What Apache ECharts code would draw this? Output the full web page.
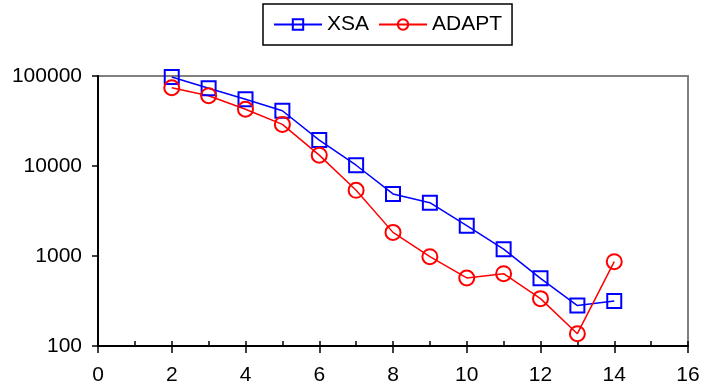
<!DOCTYPE html>
<html lang="en">
<head>
    <meta charset="utf-8">
    <title>XSA vs ADAPT</title>
    <script src="https://cdn.jsdelivr.net/npm/echarts@6/dist/echarts.min.js"></script>
</head>
<body style="margin:0;">
<div id="main" style="width:703px;height:391px;"></div>

<script type="text/javascript">
    // values (log scale)
    const xValues = [2, 3, 4, 5, 6, 7, 8, 9, 10, 11, 12, 13, 14];
    const xsa = [97500, 73000, 55100, 41100, 19400, 10200, 4890, 3910, 2170, 1190, 565, 281, 316];
    const adapt = [74000, 60400, 42700, 29000, 13200, 5370, 1830, 982, 570, 636, 336, 137, 865];
    const seriesNames = ['XSA', 'ADAPT'];

    const font = 'Arial, "Liberation Sans", sans-serif';

    function pairs(vals) {
        return xValues.map(function (x, i) { return [x, vals[i]]; });
    }

    let myChart = echarts.init(document.getElementById('main'));
    const option = {
        animation: false,
        legend: {
            data: seriesNames,
            left: 263,
            top: 4,
            padding: [10, 10],
            borderColor: '#000',
            borderWidth: 1.5,
            itemWidth: 48,
            itemHeight: 13,
            itemGap: 9,
            textStyle: { fontSize: 21, color: '#000', fontFamily: font }
        },
        grid: {
            left: 98, right: 15, top: 76, bottom: 45,
            show: true,
            borderColor: '#808080',
            borderWidth: 2
        },
        xAxis: [{
            type: 'value',
            min: 0, max: 16, interval: 2,
            axisLine: { lineStyle: { color: '#000', width: 2 } },
            axisTick: { length: 7, lineStyle: { color: '#000', width: 1.5 } },
            splitLine: { show: false },
            axisLabel: { fontSize: 21, color: '#000', fontFamily: font, margin: 19 }
        }, {
            // inner ticks every 1
            type: 'value',
            position: 'bottom',
            min: 0, max: 16, interval: 1,
            axisLine: { show: false },
            axisTick: { inside: true, length: 5, lineStyle: { color: '#000', width: 1.5 } },
            splitLine: { show: false },
            axisLabel: { show: false }
        }],
        yAxis: {
            type: 'log',
            logBase: 10,
            min: 100, max: 100000,
            axisLine: { show: true, lineStyle: { color: '#000', width: 2 } },
            axisTick: { show: true, length: 6, lineStyle: { color: '#000', width: 1.5 } },
            splitLine: { show: false },
            minorTick: { show: false },
            axisLabel: {
                fontSize: 21, color: '#000', fontFamily: font, margin: 16,
                formatter: function (v) { return String(Math.round(v)); }
            }
        },
        series: [{
            name: 'XSA',
            type: 'line',
            data: pairs(xsa),
            symbol: 'rect',
            symbolSize: 14,
            lineStyle: { color: '#0000ff', width: 1.5 },
            itemStyle: { color: 'rgba(0,0,0,0)', borderColor: '#0000ff', borderWidth: 2 }
        }, {
            name: 'ADAPT',
            type: 'line',
            data: pairs(adapt),
            symbol: 'circle',
            symbolSize: 15,
            lineStyle: { color: '#ff0000', width: 1.5 },
            itemStyle: { color: 'rgba(0,0,0,0)', borderColor: '#ff0000', borderWidth: 2 }
        }]
    };
    myChart.setOption(option);
</script>
</body>
</html>
